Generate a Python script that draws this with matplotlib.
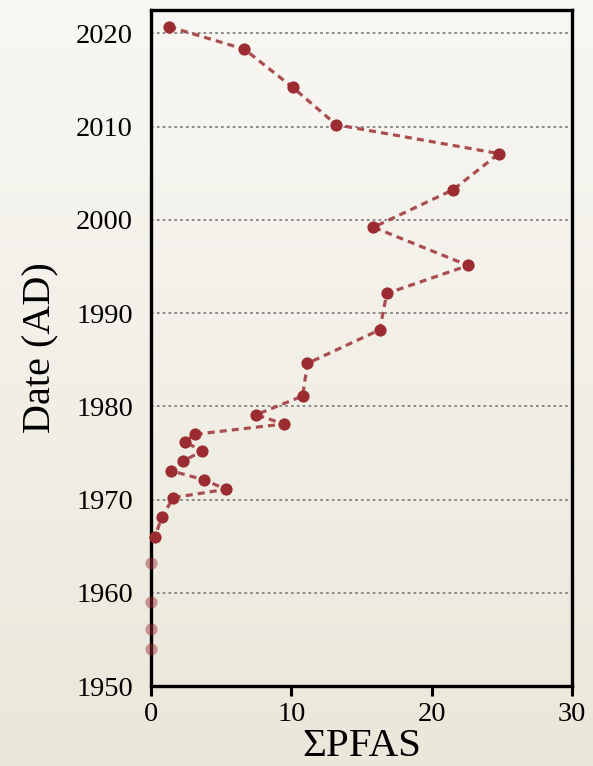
import numpy as np
import matplotlib
matplotlib.use("Agg")
import matplotlib.pyplot as plt
from matplotlib.colors import LinearSegmentedColormap

# Data
years = [2020.7, 2018.3, 2014.2, 2010.2, 2007.1, 2003.2, 1999.2, 1995.1, 1992.1,
         1988.2, 1984.6, 1981.1, 1979.1, 1978.1, 1977.0, 1976.2, 1975.2, 1974.1,
         1973.1, 1972.1, 1971.1, 1970.2, 1968.1, 1966.0]
pfas = [1.3, 6.65, 10.1, 13.2, 24.8, 21.5, 15.85, 22.6, 16.8,
        16.3, 11.15, 10.8, 7.5, 9.45, 3.15, 2.4, 3.65, 2.25,
        1.4, 3.8, 5.35, 1.6, 0.75, 0.3]
faded_years = [1963.2, 1959.0, 1956.1, 1954.0]
faded_pfas = [0, 0, 0, 0]
yticks = [1950, 1960, 1970, 1980, 1990, 2000, 2010, 2020]
xticks = [0, 10, 20, 30]

plt.rcParams['font.family'] = ['Liberation Serif', 'DejaVu Serif']

fig = plt.figure(figsize=(5.93, 7.66), dpi=100)

# background gradient
bg = fig.add_axes([0, 0, 1, 1], zorder=-10)
cmap = LinearSegmentedColormap.from_list('bg', ['#f8f7f3', '#ebe7da'])
grad = np.linspace(0, 1, 256).reshape(-1, 1)
bg.imshow(grad, aspect='auto', cmap=cmap, extent=[0, 1, 0, 1], origin='upper')
bg.axis('off')

ax = fig.add_axes([151/593, 1-686/766, (572-151)/593, (686-10)/766])
ax.set_facecolor('none')

col = '#9b2c31'
ax.plot(pfas, years, linestyle=(0, (2.2, 1.6)), color='#aa4d50', lw=2.3,
        zorder=3, clip_on=False)
ax.plot(pfas, years, linestyle='none', marker='o', ms=8.8, color=col,
        mec='none', zorder=4, clip_on=False)
ax.plot(faded_pfas, faded_years, linestyle='none', marker='o', ms=8.8,
        color=col, alpha=0.45, mec='none', zorder=4, clip_on=False)

ax.set_xlim(0, 30)
ax.set_ylim(1950, 2022.5)
ax.set_xticks(xticks)
ax.set_yticks(yticks)

ax.yaxis.grid(True, linestyle=(0, (1.4, 1.6)), color='#8a8a8a', lw=1.4)
ax.set_axisbelow(True)

for s in ax.spines.values():
    s.set_linewidth(2.4)
    s.set_color('black')

ax.tick_params(axis='y', length=0, pad=13, labelsize=20.5)
ax.tick_params(axis='x', length=7.5, width=2.2, direction='out', pad=4,
               labelsize=20.5)

ax.set_xlabel('ΣPFAS', fontsize=29.5, labelpad=1)
ax.set_ylabel('Date (AD)', fontsize=29, labelpad=12)

fig.savefig('out.png', dpi=100)
